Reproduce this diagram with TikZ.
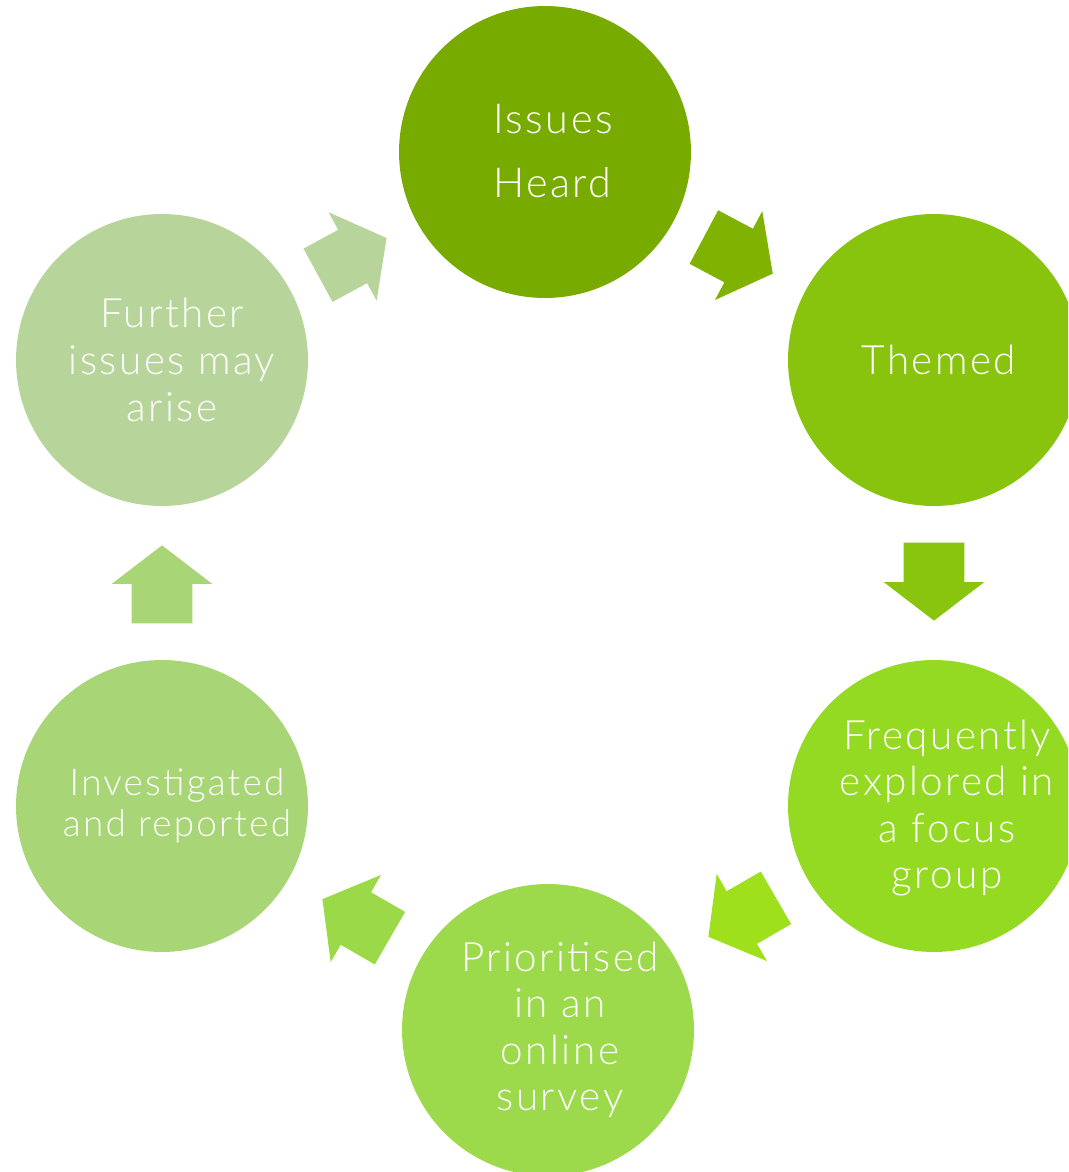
\documentclass[tikz,border=0pt]{standalone}
\usepackage{fontspec}
\setmainfont{Lato Light}[LetterSpace=6]
\usetikzlibrary{shapes.arrows,calc}
\definecolor{heardc}{HTML}{78AB00}
\definecolor{themedc}{HTML}{88C40E}
\definecolor{focusc}{HTML}{94DA22}
\definecolor{surveyc}{HTML}{9CD94B}
\definecolor{reportc}{HTML}{A8D576}
\definecolor{furtherc}{HTML}{B7D59A}
\begin{document}
\begin{tikzpicture}[x=0.02cm, y=-0.02cm,
    stage/.style={circle, minimum size=5.84cm, inner sep=0pt},
    txt/.style={text=white, align=center, inner sep=0pt, font=\fontsize{23}{26.5}\selectfont},
    blk/.style={single arrow, inner xsep=0pt, inner ysep=0.6cm, minimum height=1.56cm,
        single arrow head extend=0.4cm, single arrow tip angle=105}]
    \useasboundingbox (0,0) rectangle (1068,1172);
    \clip (0,0) rectangle (1068,1172);
    % Stages
    \node[stage, fill=heardc] (heard) at (545,152) {};
    \node[stage, fill=themedc] (themed) at (934,360) {};
    \node[stage, fill=focusc] (focus) at (934,806) {};
    \node[stage, fill=surveyc] (survey) at (548,1030) {};
    \node[stage, fill=reportc] (report) at (162,806) {};
    \node[stage, fill=furtherc] (further) at (162,360) {};
    % Texts
    \node[txt, align=left, font=\fontsize{23.5}{36.8}\selectfont] (heard-t) at ($(heard)+(8,-1)$) {Issues\\Heard};
    \node[txt] (themed-t) at ($(themed)+(5,0)$) {Themed};
    \node[txt] (focus-t) at ($(focus)+(13,2)$) {Frequently\\explored in\\a focus\\group};
    \node[txt] (survey-t) at ($(survey)+(12,0)$) {Prioritised\\in an\\online\\survey};
    \node[txt, font=\fontsize{21}{23}\selectfont] (report-t) at ($(report)+(15,0)$) {Investigated\\and reported};
    \node[txt] (further-t) at ($(further)+(10,0)$) {Further\\issues may\\arise};
    % Arrows
    \node[blk, fill=heardc!90!themedc!95!yellow, rotate=-28, xshift=-0.26cm] (a1) at ($(heard)!0.5!(themed)$) {};
    \node[blk, fill=themedc!95!focusc, rotate=-90, xshift=-0.26cm] (a2) at ($(themed)!0.5!(focus)$) {};
    \node[blk, fill=focusc!85!yellow!97!green, rotate=-150, xshift=-0.26cm] (a3) at ($(focus)!0.5!(survey)$) {};
    \node[blk, fill=surveyc!95!focusc, rotate=150, xshift=-0.26cm] (a4) at ($(survey)!0.5!(report)$) {};
    \node[blk, fill=reportc, rotate=90, xshift=-0.26cm] (a5) at ($(report)!0.5!(further)$) {};
    \node[blk, fill=furtherc, rotate=28.5, xshift=-0.26cm] (a6) at ($(further)!0.5!(heard)$) {};
\end{tikzpicture}
\end{document}
